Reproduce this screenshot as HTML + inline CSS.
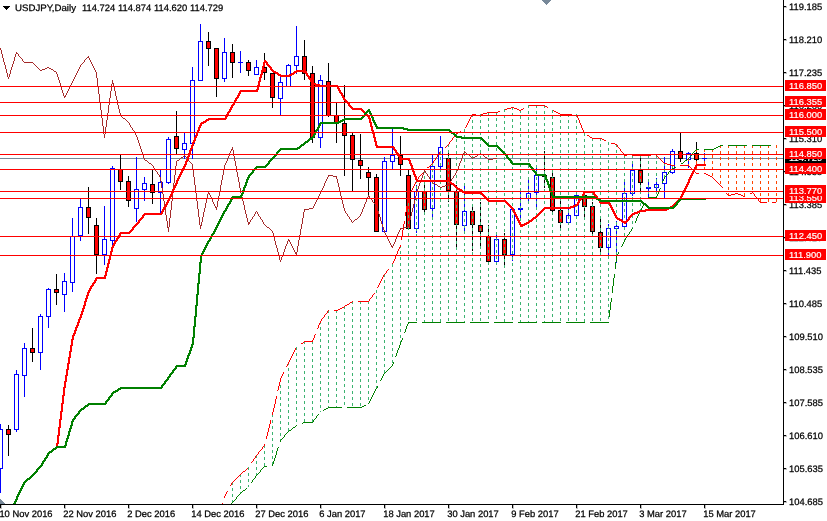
<!DOCTYPE html>
<html><head><meta charset="utf-8"><title>USDJPY,Daily</title>
<style>html,body{margin:0;padding:0;background:#fff;overflow:hidden}svg{display:block}</style></head>
<body>
<svg width="827" height="521" viewBox="0 0 827 521" shape-rendering="crispEdges">
<rect width="827" height="521" fill="#fff"/>
<defs><clipPath id="cp"><rect x="0" y="0" width="783" height="504"/></clipPath></defs>
<g clip-path="url(#cp)">
<rect x="0" y="158" width="783" height="1" fill="#778899"/>
<rect x="0" y="424" width="1" height="69" fill="#0000ff"/>
<rect x="-2" y="429" width="5" height="40" fill="#0000ff"/>
<rect x="-1" y="430" width="3" height="38" fill="#fff"/>
<rect x="8" y="425" width="1" height="31" fill="#000"/>
<rect x="6" y="429" width="5" height="6" fill="#000"/>
<rect x="7" y="430" width="3" height="4" fill="#ff0000"/>
<rect x="16" y="370" width="1" height="62" fill="#0000ff"/>
<rect x="14" y="374" width="5" height="56" fill="#0000ff"/>
<rect x="15" y="375" width="3" height="54" fill="#fff"/>
<rect x="24" y="343" width="1" height="54" fill="#0000ff"/>
<rect x="22" y="348" width="5" height="28" fill="#0000ff"/>
<rect x="23" y="349" width="3" height="26" fill="#fff"/>
<rect x="32" y="328" width="1" height="34" fill="#000"/>
<rect x="30" y="348" width="5" height="5" fill="#000"/>
<rect x="31" y="349" width="3" height="3" fill="#ff0000"/>
<rect x="40" y="314" width="1" height="56" fill="#0000ff"/>
<rect x="38" y="316" width="5" height="37" fill="#0000ff"/>
<rect x="39" y="317" width="3" height="35" fill="#fff"/>
<rect x="48" y="288" width="1" height="40" fill="#0000ff"/>
<rect x="46" y="289" width="5" height="28" fill="#0000ff"/>
<rect x="47" y="290" width="3" height="26" fill="#fff"/>
<rect x="56" y="274" width="1" height="31" fill="#000"/>
<rect x="54" y="289" width="5" height="4" fill="#000"/>
<rect x="55" y="290" width="3" height="2" fill="#ff0000"/>
<rect x="64" y="273" width="1" height="39" fill="#0000ff"/>
<rect x="62" y="281" width="5" height="14" fill="#0000ff"/>
<rect x="63" y="282" width="3" height="12" fill="#fff"/>
<rect x="72" y="218" width="1" height="74" fill="#0000ff"/>
<rect x="70" y="236" width="5" height="47" fill="#0000ff"/>
<rect x="71" y="237" width="3" height="45" fill="#fff"/>
<rect x="80" y="199" width="1" height="42" fill="#0000ff"/>
<rect x="78" y="207" width="5" height="29" fill="#0000ff"/>
<rect x="79" y="208" width="3" height="27" fill="#fff"/>
<rect x="88" y="187" width="1" height="47" fill="#000"/>
<rect x="86" y="207" width="5" height="11" fill="#000"/>
<rect x="87" y="208" width="3" height="9" fill="#ff0000"/>
<rect x="96" y="218" width="1" height="56" fill="#000"/>
<rect x="94" y="225" width="5" height="30" fill="#000"/>
<rect x="95" y="226" width="3" height="28" fill="#ff0000"/>
<rect x="104" y="206" width="1" height="59" fill="#0000ff"/>
<rect x="102" y="239" width="5" height="16" fill="#0000ff"/>
<rect x="103" y="240" width="3" height="14" fill="#fff"/>
<rect x="112" y="166" width="1" height="85" fill="#0000ff"/>
<rect x="110" y="168" width="5" height="73" fill="#0000ff"/>
<rect x="111" y="169" width="3" height="71" fill="#fff"/>
<rect x="120" y="155" width="1" height="35" fill="#000"/>
<rect x="118" y="169" width="5" height="13" fill="#000"/>
<rect x="119" y="170" width="3" height="11" fill="#ff0000"/>
<rect x="128" y="176" width="1" height="31" fill="#000"/>
<rect x="126" y="181" width="5" height="20" fill="#000"/>
<rect x="127" y="182" width="3" height="18" fill="#ff0000"/>
<rect x="136" y="157" width="1" height="65" fill="#0000ff"/>
<rect x="134" y="189" width="5" height="20" fill="#0000ff"/>
<rect x="135" y="190" width="3" height="18" fill="#fff"/>
<rect x="144" y="177" width="1" height="24" fill="#0000ff"/>
<rect x="142" y="183" width="5" height="7" fill="#0000ff"/>
<rect x="143" y="184" width="3" height="5" fill="#fff"/>
<rect x="152" y="170" width="1" height="34" fill="#000"/>
<rect x="150" y="184" width="5" height="9" fill="#000"/>
<rect x="151" y="185" width="3" height="7" fill="#ff0000"/>
<rect x="160" y="170" width="1" height="43" fill="#0000ff"/>
<rect x="158" y="182" width="5" height="11" fill="#0000ff"/>
<rect x="159" y="183" width="3" height="9" fill="#fff"/>
<rect x="168" y="137" width="1" height="47" fill="#0000ff"/>
<rect x="166" y="139" width="5" height="44" fill="#0000ff"/>
<rect x="167" y="140" width="3" height="42" fill="#fff"/>
<rect x="176" y="111" width="1" height="43" fill="#000"/>
<rect x="174" y="136" width="5" height="13" fill="#000"/>
<rect x="175" y="137" width="3" height="11" fill="#ff0000"/>
<rect x="184" y="133" width="1" height="26" fill="#0000ff"/>
<rect x="182" y="143" width="5" height="7" fill="#0000ff"/>
<rect x="183" y="144" width="3" height="5" fill="#fff"/>
<rect x="192" y="67" width="1" height="92" fill="#0000ff"/>
<rect x="190" y="80" width="5" height="64" fill="#0000ff"/>
<rect x="191" y="81" width="3" height="62" fill="#fff"/>
<rect x="200" y="24" width="1" height="57" fill="#0000ff"/>
<rect x="198" y="41" width="5" height="40" fill="#0000ff"/>
<rect x="199" y="42" width="3" height="38" fill="#fff"/>
<rect x="208" y="32" width="1" height="34" fill="#000"/>
<rect x="206" y="41" width="5" height="8" fill="#000"/>
<rect x="207" y="42" width="3" height="6" fill="#ff0000"/>
<rect x="216" y="48" width="1" height="49" fill="#000"/>
<rect x="214" y="48" width="5" height="31" fill="#000"/>
<rect x="215" y="49" width="3" height="29" fill="#ff0000"/>
<rect x="224" y="38" width="1" height="44" fill="#0000ff"/>
<rect x="222" y="52" width="5" height="27" fill="#0000ff"/>
<rect x="223" y="53" width="3" height="25" fill="#fff"/>
<rect x="232" y="44" width="1" height="34" fill="#000"/>
<rect x="230" y="52" width="5" height="11" fill="#000"/>
<rect x="231" y="53" width="3" height="9" fill="#ff0000"/>
<rect x="240" y="51" width="1" height="22" fill="#0000ff"/>
<rect x="238" y="62" width="5" height="1" fill="#0000ff"/>
<rect x="248" y="60" width="1" height="16" fill="#000"/>
<rect x="246" y="62" width="5" height="9" fill="#000"/>
<rect x="247" y="63" width="3" height="7" fill="#ff0000"/>
<rect x="256" y="60" width="1" height="15" fill="#0000ff"/>
<rect x="254" y="67" width="5" height="8" fill="#0000ff"/>
<rect x="255" y="68" width="3" height="6" fill="#fff"/>
<rect x="264" y="53" width="1" height="27" fill="#000"/>
<rect x="262" y="67" width="5" height="6" fill="#000"/>
<rect x="263" y="68" width="3" height="4" fill="#ff0000"/>
<rect x="272" y="73" width="1" height="35" fill="#000"/>
<rect x="270" y="73" width="5" height="25" fill="#000"/>
<rect x="271" y="74" width="3" height="23" fill="#ff0000"/>
<rect x="280" y="74" width="1" height="41" fill="#0000ff"/>
<rect x="278" y="82" width="5" height="17" fill="#0000ff"/>
<rect x="279" y="83" width="3" height="15" fill="#fff"/>
<rect x="288" y="64" width="1" height="23" fill="#0000ff"/>
<rect x="286" y="65" width="5" height="22" fill="#0000ff"/>
<rect x="287" y="66" width="3" height="20" fill="#fff"/>
<rect x="296" y="26" width="1" height="48" fill="#0000ff"/>
<rect x="294" y="56" width="5" height="10" fill="#0000ff"/>
<rect x="295" y="57" width="3" height="8" fill="#fff"/>
<rect x="304" y="40" width="1" height="40" fill="#000"/>
<rect x="302" y="56" width="5" height="18" fill="#000"/>
<rect x="303" y="57" width="3" height="16" fill="#ff0000"/>
<rect x="312" y="66" width="1" height="77" fill="#000"/>
<rect x="310" y="73" width="5" height="65" fill="#000"/>
<rect x="311" y="74" width="3" height="63" fill="#ff0000"/>
<rect x="320" y="75" width="1" height="73" fill="#0000ff"/>
<rect x="318" y="80" width="5" height="58" fill="#0000ff"/>
<rect x="319" y="81" width="3" height="56" fill="#fff"/>
<rect x="328" y="63" width="1" height="54" fill="#000"/>
<rect x="326" y="81" width="5" height="35" fill="#000"/>
<rect x="327" y="82" width="3" height="33" fill="#ff0000"/>
<rect x="336" y="103" width="1" height="40" fill="#000"/>
<rect x="334" y="115" width="5" height="8" fill="#000"/>
<rect x="335" y="116" width="3" height="6" fill="#ff0000"/>
<rect x="344" y="85" width="1" height="91" fill="#000"/>
<rect x="342" y="123" width="5" height="13" fill="#000"/>
<rect x="343" y="124" width="3" height="11" fill="#ff0000"/>
<rect x="352" y="133" width="1" height="59" fill="#000"/>
<rect x="350" y="135" width="5" height="25" fill="#000"/>
<rect x="351" y="136" width="3" height="23" fill="#ff0000"/>
<rect x="360" y="134" width="1" height="45" fill="#000"/>
<rect x="358" y="160" width="5" height="6" fill="#000"/>
<rect x="359" y="161" width="3" height="4" fill="#ff0000"/>
<rect x="368" y="167" width="1" height="29" fill="#000"/>
<rect x="366" y="172" width="5" height="6" fill="#000"/>
<rect x="367" y="173" width="3" height="4" fill="#ff0000"/>
<rect x="376" y="174" width="1" height="58" fill="#000"/>
<rect x="374" y="177" width="5" height="55" fill="#000"/>
<rect x="375" y="178" width="3" height="53" fill="#ff0000"/>
<rect x="384" y="157" width="1" height="75" fill="#0000ff"/>
<rect x="382" y="161" width="5" height="71" fill="#0000ff"/>
<rect x="383" y="162" width="3" height="69" fill="#fff"/>
<rect x="392" y="129" width="1" height="40" fill="#0000ff"/>
<rect x="390" y="155" width="5" height="7" fill="#0000ff"/>
<rect x="391" y="156" width="3" height="5" fill="#fff"/>
<rect x="400" y="136" width="1" height="40" fill="#000"/>
<rect x="398" y="155" width="5" height="10" fill="#000"/>
<rect x="399" y="156" width="3" height="8" fill="#ff0000"/>
<rect x="408" y="170" width="1" height="59" fill="#000"/>
<rect x="406" y="175" width="5" height="54" fill="#000"/>
<rect x="407" y="176" width="3" height="52" fill="#ff0000"/>
<rect x="416" y="185" width="1" height="48" fill="#0000ff"/>
<rect x="414" y="191" width="5" height="38" fill="#0000ff"/>
<rect x="415" y="192" width="3" height="36" fill="#fff"/>
<rect x="424" y="184" width="1" height="31" fill="#000"/>
<rect x="422" y="191" width="5" height="19" fill="#000"/>
<rect x="423" y="192" width="3" height="17" fill="#ff0000"/>
<rect x="432" y="155" width="1" height="62" fill="#0000ff"/>
<rect x="430" y="166" width="5" height="43" fill="#0000ff"/>
<rect x="431" y="167" width="3" height="41" fill="#fff"/>
<rect x="440" y="136" width="1" height="35" fill="#0000ff"/>
<rect x="438" y="147" width="5" height="20" fill="#0000ff"/>
<rect x="439" y="148" width="3" height="18" fill="#fff"/>
<rect x="448" y="153" width="1" height="49" fill="#000"/>
<rect x="446" y="158" width="5" height="33" fill="#000"/>
<rect x="447" y="159" width="3" height="31" fill="#ff0000"/>
<rect x="456" y="185" width="1" height="63" fill="#000"/>
<rect x="454" y="191" width="5" height="34" fill="#000"/>
<rect x="455" y="192" width="3" height="32" fill="#ff0000"/>
<rect x="464" y="186" width="1" height="45" fill="#0000ff"/>
<rect x="462" y="211" width="5" height="15" fill="#0000ff"/>
<rect x="463" y="212" width="3" height="13" fill="#fff"/>
<rect x="472" y="204" width="1" height="47" fill="#000"/>
<rect x="470" y="211" width="5" height="14" fill="#000"/>
<rect x="471" y="212" width="3" height="12" fill="#ff0000"/>
<rect x="480" y="202" width="1" height="46" fill="#000"/>
<rect x="478" y="225" width="5" height="7" fill="#000"/>
<rect x="479" y="226" width="3" height="5" fill="#ff0000"/>
<rect x="488" y="225" width="1" height="37" fill="#000"/>
<rect x="486" y="236" width="5" height="26" fill="#000"/>
<rect x="487" y="237" width="3" height="24" fill="#ff0000"/>
<rect x="496" y="235" width="1" height="30" fill="#0000ff"/>
<rect x="494" y="239" width="5" height="23" fill="#0000ff"/>
<rect x="495" y="240" width="3" height="21" fill="#fff"/>
<rect x="504" y="233" width="1" height="32" fill="#000"/>
<rect x="502" y="239" width="5" height="16" fill="#000"/>
<rect x="503" y="240" width="3" height="14" fill="#ff0000"/>
<rect x="512" y="209" width="1" height="52" fill="#0000ff"/>
<rect x="510" y="209" width="5" height="46" fill="#0000ff"/>
<rect x="511" y="210" width="3" height="44" fill="#fff"/>
<rect x="520" y="192" width="1" height="28" fill="#0000ff"/>
<rect x="518" y="208" width="5" height="2" fill="#0000ff"/>
<rect x="528" y="179" width="1" height="24" fill="#0000ff"/>
<rect x="526" y="193" width="5" height="6" fill="#0000ff"/>
<rect x="527" y="194" width="3" height="4" fill="#fff"/>
<rect x="536" y="167" width="1" height="40" fill="#0000ff"/>
<rect x="534" y="175" width="5" height="18" fill="#0000ff"/>
<rect x="535" y="176" width="3" height="16" fill="#fff"/>
<rect x="544" y="151" width="1" height="37" fill="#000"/>
<rect x="542" y="175" width="5" height="2" fill="#000"/>
<rect x="552" y="173" width="1" height="41" fill="#000"/>
<rect x="550" y="177" width="5" height="34" fill="#000"/>
<rect x="551" y="178" width="3" height="32" fill="#ff0000"/>
<rect x="560" y="201" width="1" height="27" fill="#000"/>
<rect x="558" y="210" width="5" height="13" fill="#000"/>
<rect x="559" y="211" width="3" height="11" fill="#ff0000"/>
<rect x="568" y="209" width="1" height="14" fill="#0000ff"/>
<rect x="566" y="215" width="5" height="8" fill="#0000ff"/>
<rect x="567" y="216" width="3" height="6" fill="#fff"/>
<rect x="576" y="194" width="1" height="22" fill="#0000ff"/>
<rect x="574" y="195" width="5" height="21" fill="#0000ff"/>
<rect x="575" y="196" width="3" height="19" fill="#fff"/>
<rect x="584" y="191" width="1" height="29" fill="#000"/>
<rect x="582" y="195" width="5" height="12" fill="#000"/>
<rect x="583" y="196" width="3" height="10" fill="#ff0000"/>
<rect x="592" y="202" width="1" height="33" fill="#000"/>
<rect x="590" y="206" width="5" height="26" fill="#000"/>
<rect x="591" y="207" width="3" height="24" fill="#ff0000"/>
<rect x="600" y="219" width="1" height="33" fill="#000"/>
<rect x="598" y="232" width="5" height="16" fill="#000"/>
<rect x="599" y="233" width="3" height="14" fill="#ff0000"/>
<rect x="608" y="224" width="1" height="31" fill="#0000ff"/>
<rect x="606" y="228" width="5" height="20" fill="#0000ff"/>
<rect x="607" y="229" width="3" height="18" fill="#fff"/>
<rect x="616" y="221" width="1" height="42" fill="#0000ff"/>
<rect x="614" y="226" width="5" height="3" fill="#0000ff"/>
<rect x="615" y="227" width="3" height="1" fill="#fff"/>
<rect x="624" y="182" width="1" height="45" fill="#0000ff"/>
<rect x="622" y="193" width="5" height="34" fill="#0000ff"/>
<rect x="623" y="194" width="3" height="32" fill="#fff"/>
<rect x="632" y="161" width="1" height="35" fill="#0000ff"/>
<rect x="630" y="170" width="5" height="24" fill="#0000ff"/>
<rect x="631" y="171" width="3" height="22" fill="#fff"/>
<rect x="640" y="156" width="1" height="35" fill="#000"/>
<rect x="638" y="170" width="5" height="13" fill="#000"/>
<rect x="639" y="171" width="3" height="11" fill="#ff0000"/>
<rect x="648" y="182" width="1" height="15" fill="#0000ff"/>
<rect x="646" y="187" width="5" height="2" fill="#0000ff"/>
<rect x="656" y="178" width="1" height="14" fill="#0000ff"/>
<rect x="654" y="184" width="5" height="4" fill="#0000ff"/>
<rect x="655" y="185" width="3" height="2" fill="#fff"/>
<rect x="664" y="157" width="1" height="41" fill="#0000ff"/>
<rect x="662" y="172" width="5" height="12" fill="#0000ff"/>
<rect x="663" y="173" width="3" height="10" fill="#fff"/>
<rect x="672" y="149" width="1" height="25" fill="#0000ff"/>
<rect x="670" y="151" width="5" height="22" fill="#0000ff"/>
<rect x="671" y="152" width="3" height="20" fill="#fff"/>
<rect x="680" y="133" width="1" height="29" fill="#000"/>
<rect x="678" y="151" width="5" height="8" fill="#000"/>
<rect x="679" y="152" width="3" height="6" fill="#ff0000"/>
<rect x="688" y="152" width="1" height="16" fill="#0000ff"/>
<rect x="686" y="153" width="5" height="7" fill="#0000ff"/>
<rect x="687" y="154" width="3" height="5" fill="#fff"/>
<rect x="696" y="142" width="1" height="22" fill="#000"/>
<rect x="694" y="153" width="5" height="7" fill="#000"/>
<rect x="695" y="154" width="3" height="5" fill="#ff0000"/>
<rect x="704" y="153" width="1" height="12" fill="#0000ff"/>
<rect x="702" y="158" width="5" height="1" fill="#0000ff"/>
<line x1="232.5" y1="482" x2="232.5" y2="503" stroke="#3cb371" stroke-width="1" stroke-dasharray="3 3"/>
<line x1="240.5" y1="474" x2="240.5" y2="494" stroke="#3cb371" stroke-width="1" stroke-dasharray="3 3"/>
<line x1="248.5" y1="467" x2="248.5" y2="487" stroke="#3cb371" stroke-width="1" stroke-dasharray="3 3"/>
<line x1="256.5" y1="455" x2="256.5" y2="476" stroke="#3cb371" stroke-width="1" stroke-dasharray="3 3"/>
<line x1="264.5" y1="445" x2="264.5" y2="467" stroke="#3cb371" stroke-width="1" stroke-dasharray="3 3"/>
<line x1="272.5" y1="414" x2="272.5" y2="466" stroke="#3cb371" stroke-width="1" stroke-dasharray="3 3"/>
<line x1="280.5" y1="379" x2="280.5" y2="441" stroke="#3cb371" stroke-width="1" stroke-dasharray="3 3"/>
<line x1="288.5" y1="362" x2="288.5" y2="432" stroke="#3cb371" stroke-width="1" stroke-dasharray="3 3"/>
<line x1="296.5" y1="347" x2="296.5" y2="426" stroke="#3cb371" stroke-width="1" stroke-dasharray="3 3"/>
<line x1="304.5" y1="341" x2="304.5" y2="423" stroke="#3cb371" stroke-width="1" stroke-dasharray="3 3"/>
<line x1="312.5" y1="341" x2="312.5" y2="423" stroke="#3cb371" stroke-width="1" stroke-dasharray="3 3"/>
<line x1="320.5" y1="321" x2="320.5" y2="412" stroke="#3cb371" stroke-width="1" stroke-dasharray="3 3"/>
<line x1="328.5" y1="310" x2="328.5" y2="408" stroke="#3cb371" stroke-width="1" stroke-dasharray="3 3"/>
<line x1="336.5" y1="310" x2="336.5" y2="408" stroke="#3cb371" stroke-width="1" stroke-dasharray="3 3"/>
<line x1="344.5" y1="306" x2="344.5" y2="408" stroke="#3cb371" stroke-width="1" stroke-dasharray="3 3"/>
<line x1="352.5" y1="301" x2="352.5" y2="408" stroke="#3cb371" stroke-width="1" stroke-dasharray="3 3"/>
<line x1="360.5" y1="301" x2="360.5" y2="408" stroke="#3cb371" stroke-width="1" stroke-dasharray="3 3"/>
<line x1="368.5" y1="301" x2="368.5" y2="404" stroke="#3cb371" stroke-width="1" stroke-dasharray="3 3"/>
<line x1="376.5" y1="290" x2="376.5" y2="389" stroke="#3cb371" stroke-width="1" stroke-dasharray="3 3"/>
<line x1="384.5" y1="274" x2="384.5" y2="374" stroke="#3cb371" stroke-width="1" stroke-dasharray="3 3"/>
<line x1="392.5" y1="264" x2="392.5" y2="366" stroke="#3cb371" stroke-width="1" stroke-dasharray="3 3"/>
<line x1="400.5" y1="245" x2="400.5" y2="344" stroke="#3cb371" stroke-width="1" stroke-dasharray="3 3"/>
<line x1="408.5" y1="197" x2="408.5" y2="323" stroke="#3cb371" stroke-width="1" stroke-dasharray="3 3"/>
<line x1="416.5" y1="180" x2="416.5" y2="323" stroke="#3cb371" stroke-width="1" stroke-dasharray="3 3"/>
<line x1="424.5" y1="170" x2="424.5" y2="323" stroke="#3cb371" stroke-width="1" stroke-dasharray="3 3"/>
<line x1="432.5" y1="163" x2="432.5" y2="323" stroke="#3cb371" stroke-width="1" stroke-dasharray="3 3"/>
<line x1="440.5" y1="151" x2="440.5" y2="323" stroke="#3cb371" stroke-width="1" stroke-dasharray="3 3"/>
<line x1="448.5" y1="144" x2="448.5" y2="323" stroke="#3cb371" stroke-width="1" stroke-dasharray="3 3"/>
<line x1="456.5" y1="133" x2="456.5" y2="323" stroke="#3cb371" stroke-width="1" stroke-dasharray="3 3"/>
<line x1="464.5" y1="129" x2="464.5" y2="323" stroke="#3cb371" stroke-width="1" stroke-dasharray="3 3"/>
<line x1="472.5" y1="114" x2="472.5" y2="323" stroke="#3cb371" stroke-width="1" stroke-dasharray="3 3"/>
<line x1="480.5" y1="114" x2="480.5" y2="323" stroke="#3cb371" stroke-width="1" stroke-dasharray="3 3"/>
<line x1="488.5" y1="112" x2="488.5" y2="323" stroke="#3cb371" stroke-width="1" stroke-dasharray="3 3"/>
<line x1="496.5" y1="112" x2="496.5" y2="323" stroke="#3cb371" stroke-width="1" stroke-dasharray="3 3"/>
<line x1="504.5" y1="109" x2="504.5" y2="323" stroke="#3cb371" stroke-width="1" stroke-dasharray="3 3"/>
<line x1="512.5" y1="107" x2="512.5" y2="323" stroke="#3cb371" stroke-width="1" stroke-dasharray="3 3"/>
<line x1="520.5" y1="110" x2="520.5" y2="323" stroke="#3cb371" stroke-width="1" stroke-dasharray="3 3"/>
<line x1="528.5" y1="105" x2="528.5" y2="323" stroke="#3cb371" stroke-width="1" stroke-dasharray="3 3"/>
<line x1="536.5" y1="105" x2="536.5" y2="323" stroke="#3cb371" stroke-width="1" stroke-dasharray="3 3"/>
<line x1="544.5" y1="105" x2="544.5" y2="323" stroke="#3cb371" stroke-width="1" stroke-dasharray="3 3"/>
<line x1="552.5" y1="110" x2="552.5" y2="323" stroke="#3cb371" stroke-width="1" stroke-dasharray="3 3"/>
<line x1="560.5" y1="114" x2="560.5" y2="323" stroke="#3cb371" stroke-width="1" stroke-dasharray="3 3"/>
<line x1="568.5" y1="114" x2="568.5" y2="323" stroke="#3cb371" stroke-width="1" stroke-dasharray="3 3"/>
<line x1="576.5" y1="114" x2="576.5" y2="323" stroke="#3cb371" stroke-width="1" stroke-dasharray="3 3"/>
<line x1="584.5" y1="133" x2="584.5" y2="323" stroke="#3cb371" stroke-width="1" stroke-dasharray="3 3"/>
<line x1="592.5" y1="138" x2="592.5" y2="323" stroke="#3cb371" stroke-width="1" stroke-dasharray="3 3"/>
<line x1="600.5" y1="138" x2="600.5" y2="323" stroke="#3cb371" stroke-width="1" stroke-dasharray="3 3"/>
<line x1="608.5" y1="142" x2="608.5" y2="323" stroke="#3cb371" stroke-width="1" stroke-dasharray="3 3"/>
<line x1="616.5" y1="144" x2="616.5" y2="258" stroke="#3cb371" stroke-width="1" stroke-dasharray="3 3"/>
<line x1="624.5" y1="155" x2="624.5" y2="241" stroke="#3cb371" stroke-width="1" stroke-dasharray="3 3"/>
<line x1="632.5" y1="155" x2="632.5" y2="229" stroke="#3cb371" stroke-width="1" stroke-dasharray="3 3"/>
<line x1="640.5" y1="155" x2="640.5" y2="211" stroke="#3cb371" stroke-width="1" stroke-dasharray="3 3"/>
<line x1="648.5" y1="155" x2="648.5" y2="198" stroke="#3cb371" stroke-width="1" stroke-dasharray="3 3"/>
<line x1="656.5" y1="155" x2="656.5" y2="198" stroke="#3cb371" stroke-width="1" stroke-dasharray="3 3"/>
<line x1="664.5" y1="163" x2="664.5" y2="178" stroke="#3cb371" stroke-width="1" stroke-dasharray="3 3"/>
<line x1="672.5" y1="165" x2="672.5" y2="169" stroke="#3cb371" stroke-width="1" stroke-dasharray="3 3"/>
<line x1="688.5" y1="158" x2="688.5" y2="166" stroke="#ff4500" stroke-width="1" stroke-dasharray="3 3"/>
<line x1="696.5" y1="149" x2="696.5" y2="174" stroke="#ff4500" stroke-width="1" stroke-dasharray="3 3"/>
<line x1="704.5" y1="149" x2="704.5" y2="174" stroke="#ff4500" stroke-width="1" stroke-dasharray="3 3"/>
<line x1="712.5" y1="149" x2="712.5" y2="178" stroke="#ff4500" stroke-width="1" stroke-dasharray="3 3"/>
<line x1="720.5" y1="145" x2="720.5" y2="186" stroke="#ff4500" stroke-width="1" stroke-dasharray="3 3"/>
<line x1="728.5" y1="145" x2="728.5" y2="196" stroke="#ff4500" stroke-width="1" stroke-dasharray="3 3"/>
<line x1="736.5" y1="145" x2="736.5" y2="194" stroke="#ff4500" stroke-width="1" stroke-dasharray="3 3"/>
<line x1="744.5" y1="145" x2="744.5" y2="197" stroke="#ff4500" stroke-width="1" stroke-dasharray="3 3"/>
<line x1="752.5" y1="145" x2="752.5" y2="193" stroke="#ff4500" stroke-width="1" stroke-dasharray="3 3"/>
<line x1="760.5" y1="145" x2="760.5" y2="203" stroke="#ff4500" stroke-width="1" stroke-dasharray="3 3"/>
<line x1="768.5" y1="145" x2="768.5" y2="203" stroke="#ff4500" stroke-width="1" stroke-dasharray="3 3"/>
<line x1="776.5" y1="145" x2="776.5" y2="203" stroke="#ff4500" stroke-width="1" stroke-dasharray="3 3"/>
<path d="M529 105h16v1h-16zM545 106h2v1h-2zM511 107h3v1h-3zM547 107h1v1h-1zM507 108h4v1h-4zM514 108h3v1h-3zM523 108h1v1h-1zM505 109h2v1h-2zM517 109h2v1h-2zM521 109h2v1h-2zM519 110h2v1h-2zM553 110h1v1h-1zM498 111h2v1h-2zM554 111h2v1h-2zM487 112h11v1h-11zM556 112h2v1h-2zM483 113h4v1h-4zM558 113h2v1h-2zM472 114h4v1h-4zM481 114h2v1h-2zM560 114h12v1h-12zM471 115h1v2h-1zM576 115h1v1h-1zM577 116h1v2h-1zM470 117h1v2h-1zM578 118h1v2h-1zM469 119h1v2h-1zM579 120h1v3h-1zM468 121h1v2h-1zM467 123h1v2h-1zM580 123h1v2h-1zM466 125h1v2h-1zM581 125h1v3h-1zM465 127h1v1h-1zM582 128h1v2h-1zM583 130h1v2h-1zM460 131h1v1h-1zM458 132h2v1h-2zM584 132h1v1h-1zM456 133h2v1h-2zM455 134h1v2h-1zM587 135h2v1h-2zM454 136h1v1h-1zM589 136h1v1h-1zM453 137h1v1h-1zM590 137h2v1h-2zM452 138h1v2h-1zM592 138h10v1h-10zM602 139h2v1h-2zM451 140h1v1h-1zM604 140h2v1h-2zM450 141h1v1h-1zM449 142h1v2h-1zM611 143h4v1h-4zM448 144h1v1h-1zM615 144h2v1h-2zM447 145h1v1h-1zM617 145h1v2h-1zM446 146h1v1h-1zM445 147h1v1h-1zM618 147h1v1h-1zM619 148h1v1h-1zM620 149h1v2h-1zM621 151h1v1h-1zM439 152h1v2h-1zM622 152h1v1h-1zM623 153h1v2h-1zM438 154h1v1h-1zM437 155h1v2h-1zM624 155h3v1h-3zM632 155h19v1h-19zM656 155h1v1h-1zM657 156h1v1h-1zM436 157h1v1h-1zM658 157h1v1h-1zM435 158h1v2h-1zM659 158h1v1h-1zM660 159h1v1h-1zM434 160h1v1h-1zM661 160h1v1h-1zM433 161h1v2h-1zM662 161h1v1h-1zM663 162h1v1h-1zM432 163h1v1h-1zM664 163h3v1h-3zM431 164h1v1h-1zM667 164h4v1h-4zM430 165h1v1h-1zM671 165h4v1h-4zM680 165h9v1h-9zM429 166h1v1h-1zM689 166h1v1h-1zM427 167h2v1h-2zM690 167h1v1h-1zM691 168h1v1h-1zM692 169h1v1h-1zM693 170h1v1h-1zM694 171h1v1h-1zM695 172h1v1h-1zM422 173h1v1h-1zM696 173h3v1h-3zM704 173h2v1h-2zM421 174h1v1h-1zM706 174h2v1h-2zM420 175h1v1h-1zM708 175h2v1h-2zM419 176h1v1h-1zM710 176h2v1h-2zM418 177h1v2h-1zM712 177h1v1h-1zM713 178h1v1h-1zM417 179h1v1h-1zM714 179h1v1h-1zM416 180h1v2h-1zM715 180h1v1h-1zM716 181h1v1h-1zM415 182h1v2h-1zM717 182h1v1h-1zM718 183h1v1h-1zM414 184h1v2h-1zM719 184h1v1h-1zM720 185h1v1h-1zM413 186h1v2h-1zM721 186h1v1h-1zM722 187h1v1h-1zM412 188h1v2h-1zM411 190h1v2h-1zM752 192h1v1h-1zM726 193h1v1h-1zM735 193h3v1h-3zM750 193h2v1h-2zM753 193h1v1h-1zM727 194h1v1h-1zM731 194h4v1h-4zM738 194h3v1h-3zM754 194h1v2h-1zM728 195h3v1h-3zM741 195h2v1h-2zM743 196h2v1h-2zM755 196h1v1h-1zM408 197h1v3h-1zM756 197h1v1h-1zM757 198h1v1h-1zM758 199h1v2h-1zM407 200h1v6h-1zM759 201h1v1h-1zM760 202h7v1h-7zM772 202h4v1h-4zM406 206h1v6h-1zM405 212h1v4h-1zM404 221h1v3h-1zM403 224h1v6h-1zM402 230h1v6h-1zM401 236h1v4h-1zM400 245h1v2h-1zM399 247h1v2h-1zM398 249h1v2h-1zM397 251h1v3h-1zM396 254h1v2h-1zM395 256h1v3h-1zM394 259h1v2h-1zM393 261h1v2h-1zM392 263h1v1h-1zM388 269h1v1h-1zM387 270h1v1h-1zM386 271h1v2h-1zM385 273h1v1h-1zM384 274h1v1h-1zM383 275h1v2h-1zM382 277h1v2h-1zM381 279h1v2h-1zM380 281h1v2h-1zM379 283h1v2h-1zM378 285h1v2h-1zM377 287h1v1h-1zM374 293h1v1h-1zM373 294h1v1h-1zM372 295h1v2h-1zM371 297h1v1h-1zM370 298h1v1h-1zM369 299h1v2h-1zM352 301h1v1h-1zM358 301h11v1h-11zM350 302h2v1h-2zM349 303h1v1h-1zM347 304h2v1h-2zM345 305h2v1h-2zM344 306h1v1h-1zM342 307h2v1h-2zM340 308h2v1h-2zM338 309h2v1h-2zM328 310h1v1h-1zM334 310h4v1h-4zM327 311h1v2h-1zM326 313h1v1h-1zM325 314h1v1h-1zM324 315h1v2h-1zM323 317h1v1h-1zM322 318h1v1h-1zM321 319h1v2h-1zM320 321h1v2h-1zM319 323h1v2h-1zM318 325h1v3h-1zM317 328h1v1h-1zM315 334h1v1h-1zM314 335h1v3h-1zM313 338h1v2h-1zM312 340h1v1h-1zM304 341h9v1h-9zM303 342h1v1h-1zM301 343h2v1h-2zM295 348h1v2h-1zM294 350h1v2h-1zM293 352h1v2h-1zM292 354h1v2h-1zM291 356h1v2h-1zM290 358h1v2h-1zM289 360h1v2h-1zM288 362h1v2h-1zM287 364h1v2h-1zM286 366h1v1h-1zM283 372h1v2h-1zM282 374h1v2h-1zM281 376h1v2h-1zM280 378h1v4h-1zM279 382h1v4h-1zM278 386h1v4h-1zM277 390h1v1h-1zM276 396h1v3h-1zM275 399h1v5h-1zM274 404h1v4h-1zM273 408h1v4h-1zM272 412h1v3h-1zM270 420h1v4h-1zM269 424h1v4h-1zM268 428h1v4h-1zM267 432h1v4h-1zM266 436h1v3h-1zM264 444h1v2h-1zM263 446h1v1h-1zM262 447h1v2h-1zM261 449h1v1h-1zM260 450h1v1h-1zM259 451h1v1h-1zM258 452h1v2h-1zM257 454h1v1h-1zM256 455h1v1h-1zM255 456h1v2h-1zM254 458h1v1h-1zM253 459h1v2h-1zM252 461h1v1h-1zM251 462h1v1h-1zM247 468h1v1h-1zM246 469h1v1h-1zM245 470h1v1h-1zM243 471h2v1h-2zM242 472h1v1h-1zM241 473h1v1h-1zM240 474h1v1h-1zM239 475h1v1h-1zM238 476h1v1h-1zM237 477h1v1h-1zM236 478h1v1h-1zM235 479h1v1h-1zM234 480h1v1h-1zM233 481h1v1h-1zM232 482h1v1h-1zM231 483h1v2h-1zM230 485h1v1h-1zM227 491h1v1h-1zM226 492h1v2h-1zM225 494h1v2h-1zM224 496h1v2h-1zM222 503h1v1h-1zM221 504h1v3h-1zM220 507h1v3h-1zM219 510h1v3h-1zM218 513h1v3h-1zM217 516h1v3h-1zM216 519h1v2h-1z" fill="#ff0000"/>
<path d="M720 145h3v1h-3zM728 145h19v1h-19zM752 145h19v1h-19zM718 146h2v1h-2zM716 147h2v1h-2zM714 148h2v1h-2zM696 149h3v1h-3zM704 149h10v1h-10zM695 150h1v1h-1zM694 151h1v1h-1zM693 152h1v1h-1zM692 153h1v2h-1zM691 155h1v1h-1zM690 156h1v1h-1zM689 157h1v1h-1zM688 158h1v1h-1zM687 159h1v1h-1zM685 160h2v1h-2zM684 161h1v1h-1zM683 162h1v1h-1zM681 163h2v1h-2zM674 167h2v1h-2zM672 168h2v1h-2zM671 169h1v1h-1zM670 170h1v1h-1zM669 171h1v1h-1zM668 172h1v2h-1zM667 174h1v1h-1zM666 175h1v1h-1zM665 176h1v1h-1zM664 177h1v2h-1zM663 179h1v2h-1zM662 181h1v2h-1zM660 188h1v1h-1zM659 189h1v2h-1zM658 191h1v3h-1zM657 194h1v2h-1zM656 196h1v1h-1zM648 197h9v1h-9zM647 198h1v1h-1zM644 204h1v1h-1zM643 205h1v1h-1zM642 206h1v2h-1zM641 208h1v2h-1zM640 210h1v2h-1zM639 212h1v2h-1zM638 214h1v2h-1zM637 216h1v2h-1zM636 218h1v3h-1zM635 221h1v2h-1zM632 228h1v1h-1zM631 229h1v2h-1zM630 231h1v1h-1zM629 232h1v2h-1zM628 234h1v1h-1zM627 235h1v2h-1zM626 237h1v1h-1zM625 238h1v2h-1zM624 240h1v2h-1zM623 242h1v2h-1zM622 244h1v2h-1zM621 246h1v1h-1zM618 252h1v2h-1zM617 254h1v2h-1zM616 256h1v6h-1zM615 262h1v7h-1zM614 274h1v4h-1zM613 278h1v8h-1zM612 286h1v7h-1zM611 298h1v4h-1zM610 302h1v8h-1zM609 310h1v7h-1zM408 322h9v1h-9zM422 322h19v1h-19zM446 322h19v1h-19zM470 322h19v1h-19zM494 322h19v1h-19zM518 322h19v1h-19zM542 322h19v1h-19zM566 322h19v1h-19zM590 322h19v1h-19zM408 323h1v1h-1zM407 324h1v2h-1zM406 326h1v3h-1zM405 329h1v3h-1zM404 332h1v1h-1zM402 338h1v2h-1zM401 340h1v2h-1zM400 342h1v3h-1zM399 345h1v3h-1zM398 348h1v2h-1zM397 350h1v3h-1zM396 353h1v3h-1zM395 356h1v1h-1zM393 362h1v2h-1zM392 364h1v2h-1zM391 366h1v1h-1zM390 367h1v1h-1zM389 368h1v1h-1zM388 369h1v1h-1zM387 370h1v1h-1zM386 371h1v1h-1zM385 372h1v1h-1zM384 373h1v1h-1zM383 374h1v2h-1zM382 376h1v2h-1zM381 378h1v2h-1zM380 380h1v1h-1zM377 386h1v2h-1zM376 388h1v1h-1zM375 389h1v2h-1zM374 391h1v2h-1zM373 393h1v2h-1zM372 395h1v2h-1zM371 397h1v2h-1zM370 399h1v2h-1zM369 401h1v2h-1zM368 403h1v1h-1zM364 405h2v1h-2zM362 406h2v1h-2zM328 407h14v1h-14zM347 407h15v1h-15zM326 408h2v1h-2zM324 409h2v1h-2zM323 410h1v1h-1zM318 414h1v1h-1zM317 415h1v1h-1zM316 416h1v2h-1zM315 418h1v1h-1zM314 419h1v1h-1zM313 420h1v2h-1zM303 422h10v1h-10zM302 423h1v1h-1zM296 425h1v1h-1zM295 426h1v1h-1zM293 427h2v1h-2zM292 428h1v1h-1zM291 429h1v1h-1zM289 430h2v1h-2zM288 431h1v1h-1zM287 432h1v1h-1zM286 433h1v1h-1zM285 434h1v1h-1zM284 435h1v2h-1zM283 437h1v1h-1zM282 438h1v1h-1zM281 439h1v1h-1zM280 440h1v2h-1zM278 447h1v1h-1zM277 448h1v3h-1zM276 451h1v4h-1zM275 455h1v3h-1zM274 458h1v3h-1zM273 461h1v3h-1zM272 464h1v2h-1zM264 466h3v1h-3zM263 467h1v1h-1zM262 468h1v1h-1zM261 469h1v1h-1zM260 470h1v2h-1zM259 472h1v1h-1zM258 473h1v1h-1zM257 474h1v1h-1zM256 475h1v1h-1zM255 476h1v2h-1zM254 478h1v1h-1zM253 479h1v1h-1zM252 480h1v2h-1zM251 482h1v1h-1zM246 488h1v1h-1zM245 489h1v1h-1zM243 490h2v1h-2zM242 491h1v1h-1zM241 492h1v1h-1zM240 493h1v1h-1zM239 494h1v1h-1zM238 495h1v1h-1zM237 496h1v1h-1zM236 497h1v2h-1zM235 499h1v1h-1zM234 500h1v1h-1zM233 501h1v1h-1zM232 502h1v1h-1zM231 503h1v1h-1zM230 504h1v2h-1zM229 506h1v1h-1zM228 507h1v1h-1zM227 508h1v1h-1zM226 509h1v2h-1zM225 511h1v1h-1zM224 512h1v1h-1z" fill="#008000"/>
<path d="M0 48h1v2h-1zM1 50h1v4h-1zM16 52h1v1h-1zM16 53h2v1h-2zM2 54h1v4h-1zM15 54h1v3h-1zM18 54h1v2h-1zM19 56h1v1h-1zM88 56h1v1h-1zM14 57h1v4h-1zM20 57h1v1h-1zM87 57h2v1h-2zM3 58h1v4h-1zM21 58h1v1h-1zM86 58h1v1h-1zM89 58h1v2h-1zM22 59h1v2h-1zM85 59h1v1h-1zM84 60h1v2h-1zM90 60h1v2h-1zM13 61h1v3h-1zM23 61h1v1h-1zM4 62h1v3h-1zM24 62h9v1h-9zM83 62h1v1h-1zM91 62h1v2h-1zM33 63h1v1h-1zM82 63h1v1h-1zM12 64h1v3h-1zM34 64h1v1h-1zM81 64h1v1h-1zM92 64h1v2h-1zM5 65h1v4h-1zM35 65h1v1h-1zM80 65h1v2h-1zM36 66h1v1h-1zM93 66h1v2h-1zM11 67h1v3h-1zM37 67h1v1h-1zM47 67h2v1h-2zM79 67h1v2h-1zM38 68h1v1h-1zM45 68h2v1h-2zM49 68h2v1h-2zM94 68h1v2h-1zM6 69h1v4h-1zM39 69h1v1h-1zM42 69h3v1h-3zM51 69h2v1h-2zM78 69h1v2h-1zM10 70h1v4h-1zM40 70h2v1h-2zM53 70h1v1h-1zM95 70h1v2h-1zM54 71h2v1h-2zM77 71h1v2h-1zM56 72h1v2h-1zM96 72h1v6h-1zM7 73h1v4h-1zM76 73h1v2h-1zM9 74h1v3h-1zM57 74h1v3h-1zM75 75h1v2h-1zM8 77h1v2h-1zM58 77h1v3h-1zM74 77h1v2h-1zM97 78h1v8h-1zM73 79h1v2h-1zM59 80h1v3h-1zM112 80h1v3h-1zM72 81h1v2h-1zM60 83h1v4h-1zM71 83h1v2h-1zM112 83h2v1h-2zM111 84h1v7h-1zM113 84h1v3h-1zM70 85h1v2h-1zM98 86h1v8h-1zM61 87h1v3h-1zM69 87h1v2h-1zM114 87h1v4h-1zM68 89h1v2h-1zM62 90h1v3h-1zM67 91h1v2h-1zM110 91h1v7h-1zM115 91h1v5h-1zM63 93h1v3h-1zM66 93h1v2h-1zM99 94h1v8h-1zM65 95h1v1h-1zM64 96h2v1h-2zM116 96h1v4h-1zM64 97h1v1h-1zM109 98h1v7h-1zM117 100h1v5h-1zM100 102h1v8h-1zM108 105h1v8h-1zM118 105h1v4h-1zM119 109h1v4h-1zM101 110h1v8h-1zM107 113h1v7h-1zM120 113h1v3h-1zM121 116h1v1h-1zM122 117h1v1h-1zM102 118h1v8h-1zM123 118h2v1h-2zM125 119h1v1h-1zM106 120h1v7h-1zM126 120h1v1h-1zM127 121h1v1h-1zM128 122h1v1h-1zM129 123h1v2h-1zM130 125h1v2h-1zM103 126h1v8h-1zM105 127h1v7h-1zM131 127h1v1h-1zM132 128h1v2h-1zM133 130h1v1h-1zM134 131h1v2h-1zM135 133h1v2h-1zM104 134h1v4h-1zM136 135h1v2h-1zM137 137h1v3h-1zM138 140h1v3h-1zM139 143h1v3h-1zM140 146h1v3h-1zM232 147h1v2h-1zM141 149h1v3h-1zM231 149h2v1h-2zM231 150h1v1h-1zM233 150h1v6h-1zM230 151h1v2h-1zM464 151h1v1h-1zM142 152h1v3h-1zM464 152h2v1h-2zM229 153h1v3h-1zM463 153h1v2h-1zM466 153h1v1h-1zM480 153h1v1h-1zM467 154h2v1h-2zM478 154h2v1h-2zM481 154h2v1h-2zM143 155h1v3h-1zM184 155h1v1h-1zM462 155h1v3h-1zM469 155h1v1h-1zM477 155h1v1h-1zM483 155h1v1h-1zM183 156h1v1h-1zM185 156h1v1h-1zM228 156h1v2h-1zM234 156h1v5h-1zM470 156h1v1h-1zM475 156h2v1h-2zM484 156h1v1h-1zM181 157h2v1h-2zM186 157h1v1h-1zM471 157h1v1h-1zM473 157h2v1h-2zM485 157h2v1h-2zM144 158h1v2h-1zM180 158h1v1h-1zM187 158h1v1h-1zM227 158h1v3h-1zM461 158h1v3h-1zM472 158h1v1h-1zM487 158h1v1h-1zM493 158h4v1h-4zM179 159h1v1h-1zM188 159h1v2h-1zM488 159h5v1h-5zM145 160h2v1h-2zM177 160h2v1h-2zM147 161h1v1h-1zM176 161h1v5h-1zM189 161h1v1h-1zM226 161h1v2h-1zM235 161h1v5h-1zM460 161h1v2h-1zM148 162h1v1h-1zM190 162h1v1h-1zM149 163h2v1h-2zM191 163h1v1h-1zM225 163h1v2h-1zM459 163h1v3h-1zM151 164h1v1h-1zM192 164h1v5h-1zM152 165h1v1h-1zM224 165h1v4h-1zM153 166h1v2h-1zM175 166h1v9h-1zM236 166h1v6h-1zM458 166h1v3h-1zM154 168h1v1h-1zM155 169h1v2h-1zM193 169h1v8h-1zM223 169h1v6h-1zM457 169h1v2h-1zM424 170h1v1h-1zM156 171h1v1h-1zM424 171h2v1h-2zM456 171h1v2h-1zM157 172h1v2h-1zM237 172h1v5h-1zM423 172h1v3h-1zM425 172h1v1h-1zM426 173h1v1h-1zM455 173h1v2h-1zM158 174h1v1h-1zM427 174h1v2h-1zM159 175h1v2h-1zM174 175h1v8h-1zM222 175h1v5h-1zM328 175h5v1h-5zM422 175h1v3h-1zM454 175h1v1h-1zM328 176h1v1h-1zM333 176h4v1h-4zM428 176h1v1h-1zM453 176h1v2h-1zM160 177h1v4h-1zM194 177h1v8h-1zM238 177h1v5h-1zM327 177h1v2h-1zM336 177h1v2h-1zM429 177h1v2h-1zM421 178h1v3h-1zM452 178h1v1h-1zM326 179h1v2h-1zM337 179h1v4h-1zM430 179h1v1h-1zM451 179h1v2h-1zM221 180h1v5h-1zM431 180h1v2h-1zM161 181h1v7h-1zM325 181h1v2h-1zM420 181h1v2h-1zM450 181h1v1h-1zM239 182h1v6h-1zM432 182h1v1h-1zM449 182h1v2h-1zM173 183h1v9h-1zM324 183h1v3h-1zM338 183h1v4h-1zM419 183h1v3h-1zM433 183h2v1h-2zM435 184h2v1h-2zM447 184h2v1h-2zM195 185h1v8h-1zM220 185h1v6h-1zM437 185h1v1h-1zM445 185h2v1h-2zM323 186h1v2h-1zM418 186h1v3h-1zM438 186h2v1h-2zM442 186h3v1h-3zM339 187h1v4h-1zM440 187h2v1h-2zM162 188h1v6h-1zM240 188h1v5h-1zM322 188h1v2h-1zM417 189h1v3h-1zM321 190h1v2h-1zM208 191h1v2h-1zM219 191h1v5h-1zM340 191h1v5h-1zM172 192h1v9h-1zM320 192h1v2h-1zM416 192h1v4h-1zM196 193h1v8h-1zM208 193h2v1h-2zM241 193h1v4h-1zM163 194h1v7h-1zM207 194h1v4h-1zM209 194h1v1h-1zM319 194h1v2h-1zM210 195h1v2h-1zM368 195h1v1h-1zM218 196h1v5h-1zM318 196h1v2h-1zM341 196h1v4h-1zM368 196h2v1h-2zM415 196h1v4h-1zM211 197h1v2h-1zM242 197h1v4h-1zM367 197h1v2h-1zM369 197h1v1h-1zM206 198h1v5h-1zM317 198h1v2h-1zM370 198h1v1h-1zM212 199h1v3h-1zM366 199h1v3h-1zM371 199h1v1h-1zM316 200h1v2h-1zM342 200h1v4h-1zM372 200h1v2h-1zM414 200h1v4h-1zM164 201h1v7h-1zM171 201h1v9h-1zM197 201h1v8h-1zM217 201h1v6h-1zM243 201h1v4h-1zM213 202h1v2h-1zM315 202h1v2h-1zM365 202h1v2h-1zM373 202h1v1h-1zM205 203h1v5h-1zM374 203h1v1h-1zM214 204h1v2h-1zM314 204h1v2h-1zM343 204h1v4h-1zM364 204h1v3h-1zM375 204h1v2h-1zM413 204h1v4h-1zM244 205h1v5h-1zM215 206h1v1h-1zM313 206h1v2h-1zM376 206h1v2h-1zM215 207h2v1h-2zM363 207h1v2h-1zM165 208h1v7h-1zM204 208h1v4h-1zM216 208h1v2h-1zM309 208h4v1h-4zM344 208h1v3h-1zM377 208h1v3h-1zM412 208h1v4h-1zM198 209h1v8h-1zM304 209h5v1h-5zM362 209h1v3h-1zM170 210h1v8h-1zM245 210h1v4h-1zM304 210h1v2h-1zM256 211h1v1h-1zM345 211h1v2h-1zM378 211h1v3h-1zM203 212h1v5h-1zM255 212h1v2h-1zM257 212h1v2h-1zM303 212h1v6h-1zM361 212h1v2h-1zM411 212h1v4h-1zM346 213h1v1h-1zM246 214h1v4h-1zM254 214h1v2h-1zM258 214h1v2h-1zM347 214h1v2h-1zM360 214h1v2h-1zM379 214h1v3h-1zM166 215h1v6h-1zM253 216h1v1h-1zM259 216h1v1h-1zM348 216h1v1h-1zM359 216h1v1h-1zM410 216h1v4h-1zM199 217h1v8h-1zM202 217h1v5h-1zM252 217h1v2h-1zM260 217h1v2h-1zM349 217h1v2h-1zM358 217h1v1h-1zM380 217h1v4h-1zM169 218h1v9h-1zM247 218h1v4h-1zM302 218h1v6h-1zM357 218h1v1h-1zM251 219h1v1h-1zM261 219h1v1h-1zM350 219h1v1h-1zM355 219h2v1h-2zM250 220h1v2h-1zM262 220h1v2h-1zM351 220h1v2h-1zM354 220h1v1h-1zM409 220h1v4h-1zM167 221h1v6h-1zM353 221h1v1h-1zM381 221h1v3h-1zM201 222h1v3h-1zM248 222h2v2h-2zM263 222h1v2h-1zM352 222h1v1h-1zM248 224h1v1h-1zM264 224h1v1h-1zM301 224h1v5h-1zM382 224h1v3h-1zM408 224h1v2h-1zM200 225h2v1h-2zM265 225h1v1h-1zM200 226h1v3h-1zM266 226h1v1h-1zM407 226h2v1h-2zM167 227h2v1h-2zM267 227h2v1h-2zM383 227h1v3h-1zM403 227h4v1h-4zM168 228h1v4h-1zM269 228h1v1h-1zM400 228h3v1h-3zM270 229h1v1h-1zM300 229h1v6h-1zM400 229h1v1h-1zM271 230h1v1h-1zM384 230h1v3h-1zM399 230h1v2h-1zM272 231h1v2h-1zM398 232h1v2h-1zM273 233h1v4h-1zM385 233h1v2h-1zM397 234h1v3h-1zM299 235h1v5h-1zM386 235h1v2h-1zM274 237h1v4h-1zM387 237h1v2h-1zM396 237h1v2h-1zM288 239h1v1h-1zM388 239h1v2h-1zM395 239h1v3h-1zM288 240h2v1h-2zM298 240h1v6h-1zM275 241h1v4h-1zM287 241h1v3h-1zM289 241h1v1h-1zM389 241h1v2h-1zM290 242h1v2h-1zM394 242h1v2h-1zM390 243h1v2h-1zM286 244h1v2h-1zM291 244h1v2h-1zM393 244h1v2h-1zM276 245h1v3h-1zM391 245h1v1h-1zM285 246h1v3h-1zM292 246h1v2h-1zM297 246h1v6h-1zM391 246h2v1h-2zM392 247h1v1h-1zM277 248h1v4h-1zM293 248h1v2h-1zM284 249h1v3h-1zM294 250h1v2h-1zM278 252h1v4h-1zM283 252h1v3h-1zM295 252h2v2h-2zM296 254h1v1h-1zM282 255h1v2h-1zM279 256h1v4h-1zM281 257h1v3h-1zM280 260h1v2h-1z" fill="#a52a2a"/>
<path d="M264 60h2v1h-2zM264 61h3v1h-3zM263 62h5v1h-5zM263 63h2v3h-2zM266 63h2v1h-2zM266 64h3v1h-3zM267 65h3v1h-3zM262 66h3v1h-3zM268 66h3v1h-3zM262 67h2v3h-2zM269 67h3v1h-3zM270 68h2v1h-2zM270 69h3v1h-3zM261 70h3v1h-3zM271 70h3v1h-3zM296 70h10v1h-10zM261 71h2v3h-2zM272 71h4v1h-4zM294 71h13v1h-13zM273 72h5v1h-5zM293 72h4v1h-4zM305 72h2v1h-2zM275 73h4v1h-4zM291 73h4v1h-4zM305 73h3v1h-3zM260 74h3v1h-3zM277 74h4v1h-4zM289 74h5v1h-5zM306 74h2v1h-2zM260 75h2v2h-2zM278 75h14v1h-14zM306 75h3v1h-3zM280 76h10v1h-10zM307 76h3v1h-3zM259 77h3v1h-3zM308 77h2v1h-2zM259 78h2v3h-2zM308 78h3v1h-3zM309 79h3v1h-3zM310 80h2v1h-2zM258 81h3v1h-3zM310 81h3v1h-3zM258 82h2v3h-2zM311 82h2v1h-2zM311 83h5v1h-5zM312 84h8v1h-8zM257 85h3v1h-3zM315 85h23v1h-23zM257 86h2v3h-2zM319 86h20v1h-20zM337 87h2v1h-2zM337 88h3v1h-3zM256 89h3v1h-3zM338 89h2v1h-2zM240 90h18v1h-18zM338 90h3v1h-3zM239 91h19v1h-19zM339 91h2v1h-2zM239 92h2v1h-2zM339 92h3v1h-3zM238 93h3v1h-3zM340 93h3v1h-3zM238 94h2v1h-2zM341 94h2v1h-2zM237 95h3v1h-3zM341 95h3v1h-3zM237 96h2v1h-2zM342 96h2v1h-2zM236 97h3v1h-3zM342 97h3v1h-3zM235 98h3v1h-3zM343 98h2v1h-2zM235 99h2v1h-2zM343 99h3v1h-3zM234 100h3v1h-3zM344 100h3v1h-3zM234 101h2v1h-2zM345 101h3v1h-3zM233 102h3v1h-3zM346 102h3v1h-3zM233 103h2v1h-2zM347 103h3v1h-3zM232 104h3v1h-3zM348 104h2v1h-2zM231 105h3v1h-3zM348 105h3v1h-3zM231 106h2v1h-2zM349 106h3v1h-3zM230 107h3v1h-3zM350 107h3v1h-3zM230 108h2v1h-2zM351 108h11v1h-11zM229 109h3v1h-3zM352 109h11v1h-11zM229 110h2v1h-2zM361 110h3v1h-3zM228 111h3v1h-3zM362 111h3v1h-3zM227 112h3v1h-3zM363 112h3v1h-3zM227 113h2v1h-2zM364 113h3v1h-3zM226 114h3v1h-3zM365 114h3v1h-3zM226 115h2v1h-2zM366 115h3v1h-3zM225 116h3v1h-3zM367 116h3v1h-3zM225 117h2v1h-2zM368 117h2v1h-2zM208 118h19v1h-19zM368 118h3v1h-3zM206 119h20v1h-20zM369 119h2v3h-2zM205 120h4v1h-4zM203 121h4v1h-4zM201 122h5v1h-5zM369 122h3v1h-3zM200 123h4v1h-4zM370 123h2v3h-2zM200 124h2v1h-2zM199 125h3v1h-3zM199 126h2v1h-2zM370 126h3v1h-3zM198 127h3v1h-3zM371 127h2v3h-2zM198 128h2v2h-2zM197 130h3v1h-3zM371 130h3v1h-3zM197 131h2v1h-2zM372 131h2v2h-2zM196 132h3v1h-3zM196 133h2v2h-2zM372 133h3v1h-3zM373 134h2v3h-2zM195 135h3v1h-3zM195 136h2v1h-2zM194 137h3v1h-3zM373 137h3v1h-3zM194 138h2v2h-2zM374 138h2v3h-2zM193 140h3v1h-3zM193 141h2v1h-2zM374 141h3v1h-3zM192 142h3v1h-3zM375 142h2v3h-2zM192 143h2v2h-2zM191 145h3v1h-3zM375 145h3v1h-3zM191 146h2v2h-2zM376 146h18v1h-18zM376 147h19v1h-19zM190 148h3v1h-3zM393 148h2v1h-2zM190 149h2v1h-2zM393 149h3v1h-3zM189 150h3v1h-3zM394 150h3v1h-3zM189 151h2v2h-2zM395 151h2v1h-2zM395 152h3v1h-3zM188 153h3v1h-3zM396 153h3v1h-3zM188 154h2v2h-2zM397 154h2v1h-2zM397 155h3v1h-3zM187 156h3v1h-3zM398 156h3v1h-3zM187 157h2v2h-2zM399 157h2v1h-2zM399 158h11v1h-11zM186 159h3v1h-3zM400 159h10v1h-10zM186 160h2v1h-2zM408 160h3v1h-3zM185 161h3v1h-3zM409 161h2v2h-2zM185 162h2v2h-2zM409 163h3v1h-3zM184 164h3v1h-3zM410 164h2v1h-2zM696 164h10v1h-10zM184 165h2v1h-2zM410 165h3v1h-3zM695 165h11v1h-11zM183 166h3v1h-3zM411 166h2v2h-2zM695 166h2v1h-2zM183 167h2v1h-2zM694 167h3v1h-3zM182 168h3v1h-3zM411 168h3v1h-3zM694 168h2v1h-2zM182 169h2v1h-2zM412 169h2v2h-2zM693 169h3v1h-3zM181 170h3v1h-3zM693 170h2v1h-2zM181 171h2v1h-2zM412 171h3v1h-3zM692 171h3v1h-3zM180 172h3v1h-3zM413 172h2v2h-2zM692 172h2v1h-2zM180 173h2v1h-2zM691 173h3v1h-3zM179 174h3v1h-3zM413 174h3v1h-3zM691 174h2v1h-2zM179 175h2v1h-2zM414 175h2v1h-2zM690 175h3v1h-3zM178 176h3v1h-3zM414 176h3v1h-3zM690 176h2v1h-2zM178 177h2v1h-2zM415 177h2v2h-2zM689 177h3v1h-3zM177 178h3v1h-3zM689 178h2v1h-2zM177 179h2v1h-2zM415 179h3v1h-3zM688 179h3v1h-3zM176 180h3v1h-3zM416 180h34v1h-34zM688 180h2v2h-2zM176 181h2v2h-2zM416 181h35v1h-35zM449 182h3v1h-3zM687 182h3v1h-3zM175 183h3v1h-3zM450 183h4v1h-4zM687 183h2v1h-2zM175 184h2v1h-2zM451 184h4v1h-4zM686 184h3v1h-3zM174 185h3v1h-3zM453 185h3v1h-3zM686 185h2v1h-2zM174 186h2v1h-2zM454 186h3v1h-3zM685 186h3v1h-3zM173 187h3v1h-3zM455 187h3v1h-3zM685 187h2v1h-2zM173 188h2v1h-2zM456 188h4v1h-4zM684 188h3v1h-3zM172 189h3v1h-3zM457 189h5v1h-5zM684 189h2v1h-2zM172 190h2v2h-2zM459 190h4v1h-4zM683 190h3v1h-3zM461 191h4v1h-4zM584 191h10v1h-10zM683 191h2v1h-2zM171 192h3v1h-3zM462 192h20v1h-20zM583 192h12v1h-12zM682 192h3v1h-3zM171 193h2v1h-2zM464 193h19v1h-19zM583 193h2v1h-2zM593 193h2v1h-2zM682 193h2v1h-2zM170 194h3v1h-3zM481 194h3v1h-3zM582 194h3v1h-3zM593 194h3v1h-3zM681 194h3v1h-3zM170 195h2v1h-2zM482 195h3v1h-3zM582 195h2v1h-2zM594 195h3v1h-3zM681 195h2v1h-2zM169 196h3v1h-3zM483 196h3v1h-3zM581 196h3v1h-3zM595 196h3v1h-3zM680 196h3v1h-3zM169 197h2v1h-2zM484 197h3v1h-3zM580 197h3v1h-3zM596 197h2v1h-2zM680 197h2v1h-2zM168 198h3v1h-3zM485 198h3v1h-3zM580 198h2v1h-2zM596 198h3v1h-3zM679 198h3v1h-3zM168 199h2v1h-2zM486 199h3v1h-3zM579 199h3v1h-3zM597 199h3v1h-3zM678 199h3v1h-3zM167 200h3v1h-3zM487 200h19v1h-19zM578 200h3v1h-3zM598 200h3v1h-3zM677 200h3v1h-3zM167 201h2v1h-2zM488 201h19v1h-19zM578 201h2v1h-2zM599 201h2v1h-2zM676 201h3v1h-3zM166 202h3v1h-3zM505 202h3v1h-3zM577 202h3v1h-3zM599 202h11v1h-11zM675 202h3v1h-3zM166 203h2v1h-2zM506 203h3v1h-3zM577 203h2v1h-2zM600 203h11v1h-11zM674 203h3v1h-3zM165 204h3v1h-3zM507 204h3v1h-3zM575 204h4v1h-4zM609 204h2v1h-2zM673 204h3v1h-3zM165 205h2v1h-2zM508 205h3v1h-3zM573 205h5v1h-5zM609 205h3v1h-3zM672 205h3v1h-3zM164 206h3v1h-3zM509 206h3v1h-3zM570 206h6v1h-6zM610 206h2v1h-2zM670 206h4v1h-4zM163 207h3v1h-3zM510 207h3v1h-3zM544 207h30v1h-30zM610 207h3v1h-3zM668 207h5v1h-5zM163 208h2v1h-2zM511 208h3v1h-3zM543 208h28v1h-28zM611 208h2v1h-2zM666 208h5v1h-5zM162 209h3v1h-3zM512 209h2v1h-2zM542 209h3v1h-3zM611 209h3v1h-3zM645 209h24v1h-24zM162 210h2v1h-2zM512 210h3v1h-3zM541 210h3v1h-3zM612 210h2v1h-2zM639 210h28v1h-28zM161 211h3v1h-3zM513 211h2v1h-2zM540 211h3v1h-3zM612 211h3v1h-3zM637 211h9v1h-9zM161 212h2v1h-2zM513 212h3v1h-3zM539 212h3v1h-3zM613 212h2v1h-2zM634 212h6v1h-6zM144 213h19v1h-19zM514 213h2v1h-2zM538 213h3v1h-3zM613 213h3v1h-3zM632 213h6v1h-6zM143 214h19v1h-19zM514 214h3v1h-3zM537 214h3v1h-3zM614 214h2v1h-2zM631 214h4v1h-4zM142 215h3v1h-3zM515 215h2v1h-2zM536 215h3v1h-3zM614 215h3v1h-3zM630 215h3v1h-3zM142 216h2v1h-2zM515 216h3v1h-3zM535 216h3v1h-3zM615 216h2v1h-2zM629 216h3v1h-3zM141 217h3v1h-3zM516 217h2v1h-2zM533 217h4v1h-4zM615 217h3v1h-3zM628 217h3v1h-3zM140 218h3v1h-3zM516 218h3v1h-3zM532 218h4v1h-4zM616 218h4v1h-4zM628 218h2v1h-2zM139 219h3v1h-3zM517 219h2v1h-2zM531 219h3v1h-3zM617 219h5v1h-5zM627 219h3v1h-3zM138 220h3v1h-3zM517 220h3v1h-3zM529 220h4v1h-4zM619 220h4v1h-4zM626 220h3v1h-3zM138 221h2v1h-2zM518 221h2v1h-2zM528 221h4v1h-4zM621 221h7v1h-7zM137 222h3v1h-3zM518 222h3v1h-3zM526 222h4v1h-4zM622 222h5v1h-5zM136 223h3v1h-3zM519 223h2v1h-2zM524 223h5v1h-5zM624 223h2v1h-2zM135 224h3v1h-3zM519 224h8v1h-8zM134 225h3v1h-3zM520 225h5v1h-5zM133 226h3v1h-3zM520 226h3v1h-3zM132 227h3v1h-3zM132 228h2v1h-2zM131 229h3v1h-3zM130 230h3v1h-3zM129 231h3v1h-3zM120 232h11v1h-11zM119 233h11v1h-11zM119 234h2v1h-2zM118 235h3v1h-3zM118 236h2v1h-2zM117 237h3v1h-3zM116 238h3v1h-3zM116 239h2v1h-2zM115 240h3v1h-3zM114 241h3v1h-3zM114 242h2v1h-2zM113 243h3v1h-3zM113 244h2v1h-2zM112 245h3v1h-3zM112 246h2v1h-2zM111 247h3v1h-3zM111 248h2v3h-2zM110 251h3v1h-3zM110 252h2v3h-2zM109 255h3v1h-3zM109 256h2v3h-2zM108 259h3v1h-3zM108 260h2v3h-2zM107 263h3v1h-3zM107 264h2v3h-2zM106 267h3v1h-3zM106 268h2v3h-2zM105 271h3v1h-3zM105 272h2v3h-2zM104 275h3v1h-3zM104 276h2v1h-2zM96 277h10v1h-10zM95 278h11v1h-11zM95 279h2v1h-2zM94 280h3v1h-3zM94 281h2v1h-2zM93 282h3v1h-3zM92 283h3v1h-3zM92 284h2v1h-2zM91 285h3v1h-3zM90 286h3v1h-3zM90 287h2v1h-2zM89 288h3v1h-3zM89 289h2v1h-2zM88 290h3v1h-3zM88 291h2v1h-2zM87 292h3v1h-3zM87 293h2v2h-2zM86 295h3v1h-3zM86 296h2v2h-2zM85 298h3v1h-3zM85 299h2v2h-2zM84 301h3v1h-3zM84 302h2v3h-2zM83 305h3v1h-3zM83 306h2v2h-2zM82 308h3v1h-3zM82 309h2v2h-2zM81 311h3v1h-3zM81 312h2v2h-2zM80 314h3v1h-3zM80 315h2v2h-2zM79 317h3v1h-3zM79 318h2v1h-2zM78 319h3v1h-3zM78 320h2v2h-2zM77 322h3v1h-3zM77 323h2v2h-2zM76 325h3v1h-3zM76 326h2v1h-2zM75 327h3v1h-3zM75 328h2v2h-2zM74 330h3v1h-3zM74 331h2v2h-2zM73 333h3v1h-3zM73 334h2v1h-2zM72 335h3v1h-3zM72 336h2v3h-2zM71 339h3v1h-3zM71 340h2v5h-2zM70 345h3v1h-3zM70 346h2v5h-2zM69 351h3v1h-3zM69 352h2v5h-2zM68 357h3v1h-3zM68 358h2v5h-2zM67 363h3v1h-3zM67 364h2v5h-2zM66 369h3v1h-3zM66 370h2v5h-2zM65 375h3v1h-3zM65 376h2v5h-2zM64 381h3v1h-3zM64 382h2v5h-2zM63 387h3v1h-3zM63 388h2v7h-2zM62 395h3v1h-3zM62 396h2v7h-2zM61 403h3v1h-3zM61 404h2v7h-2zM60 411h3v1h-3zM60 412h2v7h-2zM59 419h3v1h-3zM59 420h2v7h-2zM58 427h3v1h-3zM58 428h2v7h-2zM57 435h3v1h-3zM57 436h2v7h-2zM56 443h3v1h-3zM56 444h2v4h-2z" fill="#ff0000"/>
<path d="M368 109h2v1h-2zM367 110h3v1h-3zM366 111h5v1h-5zM365 112h3v1h-3zM369 112h2v1h-2zM364 113h3v1h-3zM369 113h3v1h-3zM364 114h2v1h-2zM370 114h2v1h-2zM363 115h3v1h-3zM370 115h3v1h-3zM362 116h3v1h-3zM371 116h2v1h-2zM361 117h3v1h-3zM371 117h3v1h-3zM344 118h19v1h-19zM372 118h2v2h-2zM342 119h20v1h-20zM340 120h5v1h-5zM372 120h3v1h-3zM338 121h5v1h-5zM373 121h2v1h-2zM320 122h21v1h-21zM373 122h3v1h-3zM319 123h20v1h-20zM374 123h2v1h-2zM319 124h2v1h-2zM374 124h3v1h-3zM318 125h3v1h-3zM375 125h2v1h-2zM318 126h2v1h-2zM375 126h3v1h-3zM317 127h3v1h-3zM376 127h28v1h-28zM317 128h2v1h-2zM376 128h32v1h-32zM316 129h3v1h-3zM403 129h47v1h-47zM315 130h3v1h-3zM407 130h44v1h-44zM315 131h2v1h-2zM449 131h3v1h-3zM314 132h3v1h-3zM450 132h4v1h-4zM314 133h2v1h-2zM451 133h4v1h-4zM313 134h3v1h-3zM453 134h3v1h-3zM313 135h2v1h-2zM454 135h3v1h-3zM312 136h3v1h-3zM455 136h7v1h-7zM311 137h3v1h-3zM456 137h26v1h-26zM309 138h4v1h-4zM461 138h22v1h-22zM308 139h4v1h-4zM481 139h3v1h-3zM307 140h3v1h-3zM482 140h3v1h-3zM305 141h4v1h-4zM483 141h3v1h-3zM304 142h4v1h-4zM484 142h3v1h-3zM303 143h3v1h-3zM485 143h3v1h-3zM301 144h4v1h-4zM486 144h3v1h-3zM300 145h4v1h-4zM487 145h11v1h-11zM299 146h3v1h-3zM488 146h11v1h-11zM297 147h4v1h-4zM497 147h3v1h-3zM280 148h20v1h-20zM498 148h3v1h-3zM279 149h19v1h-19zM499 149h3v1h-3zM278 150h3v1h-3zM500 150h3v1h-3zM277 151h3v1h-3zM501 151h3v1h-3zM276 152h3v1h-3zM502 152h3v1h-3zM276 153h2v1h-2zM503 153h3v1h-3zM275 154h3v1h-3zM504 154h3v1h-3zM274 155h3v1h-3zM505 155h3v1h-3zM273 156h3v1h-3zM506 156h2v1h-2zM272 157h3v1h-3zM506 157h3v1h-3zM271 158h3v1h-3zM507 158h3v1h-3zM270 159h3v1h-3zM508 159h3v1h-3zM269 160h3v1h-3zM509 160h3v1h-3zM268 161h3v1h-3zM510 161h2v1h-2zM268 162h2v1h-2zM510 162h3v1h-3zM267 163h3v1h-3zM511 163h19v1h-19zM266 164h3v1h-3zM512 164h19v1h-19zM265 165h3v1h-3zM529 165h2v1h-2zM256 166h11v1h-11zM529 166h3v1h-3zM255 167h11v1h-11zM530 167h3v1h-3zM254 168h3v1h-3zM531 168h3v1h-3zM253 169h3v1h-3zM532 169h2v1h-2zM252 170h3v1h-3zM532 170h3v1h-3zM252 171h2v1h-2zM533 171h3v1h-3zM251 172h3v1h-3zM534 172h3v1h-3zM250 173h3v1h-3zM535 173h2v1h-2zM249 174h3v1h-3zM535 174h11v1h-11zM248 175h3v1h-3zM536 175h10v1h-10zM248 176h2v1h-2zM544 176h3v1h-3zM247 177h3v1h-3zM545 177h2v2h-2zM247 178h2v1h-2zM246 179h3v1h-3zM545 179h3v1h-3zM246 180h2v2h-2zM546 180h2v1h-2zM546 181h3v1h-3zM245 182h3v1h-3zM547 182h2v2h-2zM245 183h2v2h-2zM547 184h3v1h-3zM244 185h3v1h-3zM548 185h2v2h-2zM244 186h2v1h-2zM243 187h3v1h-3zM548 187h3v1h-3zM243 188h2v2h-2zM549 188h2v2h-2zM242 190h3v1h-3zM549 190h3v1h-3zM242 191h2v2h-2zM550 191h2v1h-2zM550 192h3v1h-3zM241 193h3v1h-3zM551 193h2v2h-2zM241 194h2v1h-2zM240 195h3v1h-3zM551 195h3v1h-3zM232 196h10v1h-10zM552 196h43v1h-43zM231 197h11v1h-11zM552 197h45v1h-45zM231 198h2v1h-2zM594 198h5v1h-5zM680 198h26v1h-26zM230 199h3v1h-3zM596 199h5v1h-5zM679 199h27v1h-27zM230 200h2v1h-2zM598 200h44v1h-44zM678 200h3v1h-3zM229 201h3v1h-3zM600 201h43v1h-43zM677 201h3v1h-3zM229 202h2v1h-2zM641 202h3v1h-3zM676 202h3v1h-3zM228 203h3v1h-3zM642 203h4v1h-4zM676 203h2v1h-2zM227 204h3v1h-3zM643 204h4v1h-4zM675 204h3v1h-3zM227 205h2v1h-2zM645 205h3v1h-3zM674 205h3v1h-3zM226 206h3v1h-3zM646 206h3v1h-3zM673 206h3v1h-3zM226 207h2v1h-2zM647 207h28v1h-28zM225 208h3v1h-3zM648 208h26v1h-26zM225 209h2v1h-2zM224 210h3v1h-3zM223 211h3v1h-3zM223 212h2v1h-2zM222 213h3v1h-3zM222 214h2v1h-2zM221 215h3v1h-3zM221 216h2v1h-2zM220 217h3v1h-3zM220 218h2v1h-2zM219 219h3v1h-3zM219 220h2v1h-2zM218 221h3v1h-3zM218 222h2v1h-2zM217 223h3v1h-3zM217 224h2v1h-2zM216 225h3v1h-3zM216 226h2v1h-2zM215 227h3v1h-3zM215 228h2v1h-2zM214 229h3v1h-3zM214 230h2v1h-2zM213 231h3v1h-3zM213 232h2v1h-2zM212 233h3v1h-3zM211 234h3v1h-3zM211 235h2v1h-2zM210 236h3v1h-3zM210 237h2v1h-2zM209 238h3v1h-3zM209 239h2v1h-2zM208 240h3v1h-3zM207 241h3v1h-3zM207 242h2v1h-2zM206 243h3v1h-3zM206 244h2v1h-2zM205 245h3v1h-3zM205 246h2v1h-2zM204 247h3v1h-3zM204 248h2v1h-2zM203 249h3v1h-3zM203 250h2v1h-2zM202 251h3v1h-3zM202 252h2v1h-2zM201 253h3v1h-3zM201 254h2v1h-2zM200 255h3v1h-3zM200 256h2v6h-2zM199 262h3v1h-3zM199 263h2v10h-2zM198 273h3v1h-3zM198 274h2v9h-2zM197 283h3v1h-3zM197 284h2v10h-2zM196 294h3v1h-3zM196 295h2v10h-2zM195 305h3v1h-3zM195 306h2v10h-2zM194 316h3v1h-3zM194 317h2v9h-2zM193 326h3v1h-3zM193 327h2v10h-2zM192 337h3v1h-3zM192 338h2v6h-2zM191 344h3v1h-3zM191 345h2v2h-2zM190 347h3v1h-3zM190 348h2v2h-2zM189 350h3v1h-3zM189 351h2v2h-2zM188 353h3v1h-3zM188 354h2v1h-2zM187 355h3v1h-3zM187 356h2v2h-2zM186 358h3v1h-3zM186 359h2v2h-2zM185 361h3v1h-3zM185 362h2v2h-2zM184 364h3v1h-3zM176 365h10v1h-10zM175 366h11v1h-11zM175 367h2v1h-2zM174 368h3v1h-3zM173 369h3v1h-3zM172 370h3v1h-3zM172 371h2v1h-2zM171 372h3v1h-3zM170 373h3v1h-3zM169 374h3v1h-3zM169 375h2v1h-2zM168 376h3v1h-3zM167 377h3v1h-3zM167 378h2v1h-2zM166 379h3v1h-3zM165 380h3v1h-3zM164 381h3v1h-3zM164 382h2v1h-2zM163 383h3v1h-3zM162 384h3v1h-3zM161 385h3v1h-3zM161 386h2v1h-2zM120 387h43v1h-43zM118 388h44v1h-44zM117 389h4v1h-4zM115 390h4v1h-4zM113 391h5v1h-5zM112 392h4v1h-4zM111 393h3v1h-3zM111 394h2v1h-2zM110 395h3v1h-3zM109 396h3v1h-3zM108 397h3v1h-3zM108 398h2v1h-2zM107 399h3v1h-3zM106 400h3v1h-3zM105 401h3v1h-3zM105 402h2v1h-2zM88 403h19v1h-19zM87 404h19v1h-19zM85 405h4v1h-4zM84 406h4v1h-4zM83 407h3v1h-3zM81 408h4v1h-4zM80 409h4v1h-4zM79 410h3v1h-3zM78 411h3v1h-3zM78 412h2v1h-2zM77 413h3v1h-3zM76 414h3v1h-3zM75 415h3v1h-3zM74 416h3v1h-3zM74 417h2v1h-2zM73 418h3v1h-3zM72 419h3v1h-3zM72 420h2v1h-2zM71 421h3v1h-3zM71 422h2v3h-2zM70 425h3v1h-3zM70 426h2v2h-2zM69 428h3v1h-3zM69 429h2v2h-2zM68 431h3v1h-3zM68 432h2v3h-2zM67 435h3v1h-3zM67 436h2v2h-2zM66 438h3v1h-3zM66 439h2v2h-2zM65 441h3v1h-3zM65 442h2v3h-2zM64 445h3v1h-3zM56 446h10v1h-10zM55 447h11v1h-11zM53 448h4v1h-4zM52 449h4v1h-4zM51 450h3v1h-3zM49 451h4v1h-4zM48 452h4v1h-4zM47 453h3v1h-3zM47 454h2v1h-2zM46 455h3v1h-3zM46 456h2v1h-2zM45 457h3v1h-3zM44 458h3v1h-3zM44 459h2v1h-2zM43 460h3v1h-3zM42 461h3v1h-3zM42 462h2v1h-2zM41 463h3v1h-3zM41 464h2v1h-2zM40 465h3v1h-3zM39 466h3v1h-3zM38 467h3v1h-3zM37 468h3v1h-3zM36 469h3v1h-3zM36 470h2v1h-2zM35 471h3v1h-3zM34 472h3v1h-3zM33 473h3v1h-3zM32 474h3v1h-3zM31 475h3v1h-3zM30 476h3v1h-3zM29 477h3v1h-3zM27 478h4v1h-4zM26 479h4v1h-4zM25 480h3v1h-3zM24 481h3v1h-3zM23 482h3v1h-3zM23 483h2v1h-2zM22 484h3v1h-3zM22 485h2v1h-2zM21 486h3v1h-3zM21 487h2v1h-2zM20 488h3v1h-3zM20 489h2v1h-2zM19 490h3v1h-3zM19 491h2v1h-2zM18 492h3v1h-3zM18 493h2v1h-2zM17 494h3v1h-3zM17 495h2v1h-2zM16 496h3v1h-3zM16 497h2v2h-2zM15 499h3v1h-3zM15 500h2v1h-2zM14 501h3v1h-3zM14 502h2v1h-2zM13 503h3v1h-3zM13 504h2v1h-2zM12 505h3v1h-3zM12 506h2v1h-2zM11 507h3v1h-3zM11 508h2v1h-2zM10 509h3v1h-3zM10 510h2v1h-2zM9 511h3v1h-3zM9 512h2v1h-2zM8 513h3v1h-3zM8 514h2v2h-2z" fill="#008000"/>
<rect x="0" y="86" width="783" height="1" fill="#ff0000"/>
<rect x="0" y="102" width="783" height="1" fill="#ff0000"/>
<rect x="0" y="115" width="783" height="1" fill="#ff0000"/>
<rect x="0" y="132" width="783" height="1" fill="#ff0000"/>
<rect x="0" y="154" width="783" height="1" fill="#ff0000"/>
<rect x="0" y="169" width="783" height="1" fill="#ff0000"/>
<rect x="0" y="198" width="783" height="1" fill="#ff0000"/>
<rect x="0" y="191" width="783" height="1" fill="#ff0000"/>
<rect x="0" y="236" width="783" height="1" fill="#ff0000"/>
<rect x="0" y="255" width="783" height="1" fill="#ff0000"/>
</g>
<polygon points="0,499 5,504 0,504" fill="#778899"/>
<polygon points="541,0 551,0 546,5" fill="#778899"/>
<rect x="783" y="0" width="1" height="505" fill="#000"/>
<rect x="0" y="504" width="784" height="1" fill="#000"/>
<g font-family="'Liberation Sans',Arial,sans-serif" font-size="9.4px" fill="#000" stroke="#000" stroke-width="0.25" shape-rendering="auto" text-rendering="geometricPrecision">
<rect x="784" y="6" width="2" height="1" fill="#000" shape-rendering="crispEdges"/>
<text x="789" y="10">119.185</text>
<rect x="784" y="39" width="2" height="1" fill="#000" shape-rendering="crispEdges"/>
<text x="789" y="43">118.210</text>
<rect x="784" y="72" width="2" height="1" fill="#000" shape-rendering="crispEdges"/>
<text x="789" y="76">117.235</text>
<rect x="784" y="105" width="2" height="1" fill="#000" shape-rendering="crispEdges"/>
<text x="789" y="109">116.260</text>
<rect x="784" y="138" width="2" height="1" fill="#000" shape-rendering="crispEdges"/>
<text x="789" y="142">115.310</text>
<rect x="784" y="171" width="2" height="1" fill="#000" shape-rendering="crispEdges"/>
<text x="789" y="175">114.335</text>
<rect x="784" y="204" width="2" height="1" fill="#000" shape-rendering="crispEdges"/>
<text x="789" y="208">113.385</text>
<rect x="784" y="237" width="2" height="1" fill="#000" shape-rendering="crispEdges"/>
<text x="789" y="241">112.410</text>
<rect x="784" y="270" width="2" height="1" fill="#000" shape-rendering="crispEdges"/>
<text x="789" y="274">111.435</text>
<rect x="784" y="303" width="2" height="1" fill="#000" shape-rendering="crispEdges"/>
<text x="789" y="307">110.485</text>
<rect x="784" y="336" width="2" height="1" fill="#000" shape-rendering="crispEdges"/>
<text x="789" y="340">109.510</text>
<rect x="784" y="369" width="2" height="1" fill="#000" shape-rendering="crispEdges"/>
<text x="789" y="373">108.535</text>
<rect x="784" y="402" width="2" height="1" fill="#000" shape-rendering="crispEdges"/>
<text x="789" y="406">107.585</text>
<rect x="784" y="435" width="2" height="1" fill="#000" shape-rendering="crispEdges"/>
<text x="789" y="439">106.610</text>
<rect x="784" y="468" width="2" height="1" fill="#000" shape-rendering="crispEdges"/>
<text x="789" y="472">105.635</text>
<rect x="784" y="501" width="2" height="1" fill="#000" shape-rendering="crispEdges"/>
<text x="789" y="505">104.685</text>
<rect x="0" y="504" width="1" height="4" fill="#000" shape-rendering="crispEdges"/>
<text x="-0.6" y="516.8">10 Nov 2016</text>
<rect x="64" y="504" width="1" height="4" fill="#000" shape-rendering="crispEdges"/>
<text x="63.2" y="516.8">22 Nov 2016</text>
<rect x="128" y="504" width="1" height="4" fill="#000" shape-rendering="crispEdges"/>
<text x="127.2" y="516.8">2 Dec 2016</text>
<rect x="192" y="504" width="1" height="4" fill="#000" shape-rendering="crispEdges"/>
<text x="191.2" y="516.8">14 Dec 2016</text>
<rect x="256" y="504" width="1" height="4" fill="#000" shape-rendering="crispEdges"/>
<text x="255.2" y="516.8">27 Dec 2016</text>
<rect x="320" y="504" width="1" height="4" fill="#000" shape-rendering="crispEdges"/>
<text x="319.2" y="516.8">6 Jan 2017</text>
<rect x="384" y="504" width="1" height="4" fill="#000" shape-rendering="crispEdges"/>
<text x="383.2" y="516.8">18 Jan 2017</text>
<rect x="448" y="504" width="1" height="4" fill="#000" shape-rendering="crispEdges"/>
<text x="447.2" y="516.8">30 Jan 2017</text>
<rect x="512" y="504" width="1" height="4" fill="#000" shape-rendering="crispEdges"/>
<text x="511.2" y="516.8">9 Feb 2017</text>
<rect x="576" y="504" width="1" height="4" fill="#000" shape-rendering="crispEdges"/>
<text x="575.2" y="516.8">21 Feb 2017</text>
<rect x="640" y="504" width="1" height="4" fill="#000" shape-rendering="crispEdges"/>
<text x="639.2" y="516.8">3 Mar 2017</text>
<rect x="704" y="504" width="1" height="4" fill="#000" shape-rendering="crispEdges"/>
<text x="703.2" y="516.8">15 Mar 2017</text>
<path d="M3 6h7v1h-7zM4 7h5v1h-5zM5 8h3v1h-3zM6 9h1v1h-1z" fill="#000" stroke="none" shape-rendering="crispEdges"/>
<text x="15" y="11" textLength="61" lengthAdjust="spacingAndGlyphs">USDJPY,Daily</text>
<text x="82" y="11">114.724</text>
<text x="118" y="11">114.874</text>
<text x="154" y="11">114.620</text>
<text x="190" y="11">114.729</text>
</g>
<rect x="785" y="152" width="41" height="11" fill="#000"/>
<text x="789" y="161" font-family="'Liberation Sans',Arial,sans-serif" font-size="9.4px" fill="#fff" stroke="#fff" stroke-width="0.2" shape-rendering="auto">114.729</text>
<rect x="785" y="80" width="41" height="11" fill="#ff0000"/>
<text x="789" y="89" font-family="'Liberation Sans',Arial,sans-serif" font-size="9.4px" fill="#fff" stroke="#fff" stroke-width="0.2" shape-rendering="auto">116.850</text>
<rect x="785" y="96" width="41" height="11" fill="#ff0000"/>
<text x="789" y="105" font-family="'Liberation Sans',Arial,sans-serif" font-size="9.4px" fill="#fff" stroke="#fff" stroke-width="0.2" shape-rendering="auto">116.355</text>
<rect x="785" y="109" width="41" height="11" fill="#ff0000"/>
<text x="789" y="118" font-family="'Liberation Sans',Arial,sans-serif" font-size="9.4px" fill="#fff" stroke="#fff" stroke-width="0.2" shape-rendering="auto">116.000</text>
<rect x="785" y="126" width="41" height="11" fill="#ff0000"/>
<text x="789" y="135" font-family="'Liberation Sans',Arial,sans-serif" font-size="9.4px" fill="#fff" stroke="#fff" stroke-width="0.2" shape-rendering="auto">115.500</text>
<rect x="785" y="148" width="41" height="11" fill="#ff0000"/>
<text x="789" y="157" font-family="'Liberation Sans',Arial,sans-serif" font-size="9.4px" fill="#fff" stroke="#fff" stroke-width="0.2" shape-rendering="auto">114.850</text>
<rect x="785" y="163" width="41" height="11" fill="#ff0000"/>
<text x="789" y="172" font-family="'Liberation Sans',Arial,sans-serif" font-size="9.4px" fill="#fff" stroke="#fff" stroke-width="0.2" shape-rendering="auto">114.400</text>
<rect x="785" y="192" width="41" height="11" fill="#ff0000"/>
<text x="789" y="201" font-family="'Liberation Sans',Arial,sans-serif" font-size="9.4px" fill="#fff" stroke="#fff" stroke-width="0.2" shape-rendering="auto">113.550</text>
<rect x="785" y="185" width="41" height="11" fill="#ff0000"/>
<text x="789" y="194" font-family="'Liberation Sans',Arial,sans-serif" font-size="9.4px" fill="#fff" stroke="#fff" stroke-width="0.2" shape-rendering="auto">113.770</text>
<rect x="785" y="230" width="41" height="11" fill="#ff0000"/>
<text x="789" y="239" font-family="'Liberation Sans',Arial,sans-serif" font-size="9.4px" fill="#fff" stroke="#fff" stroke-width="0.2" shape-rendering="auto">112.450</text>
<rect x="785" y="249" width="41" height="11" fill="#ff0000"/>
<text x="789" y="258" font-family="'Liberation Sans',Arial,sans-serif" font-size="9.4px" fill="#fff" stroke="#fff" stroke-width="0.2" shape-rendering="auto">111.900</text>
</svg>
</body></html>
